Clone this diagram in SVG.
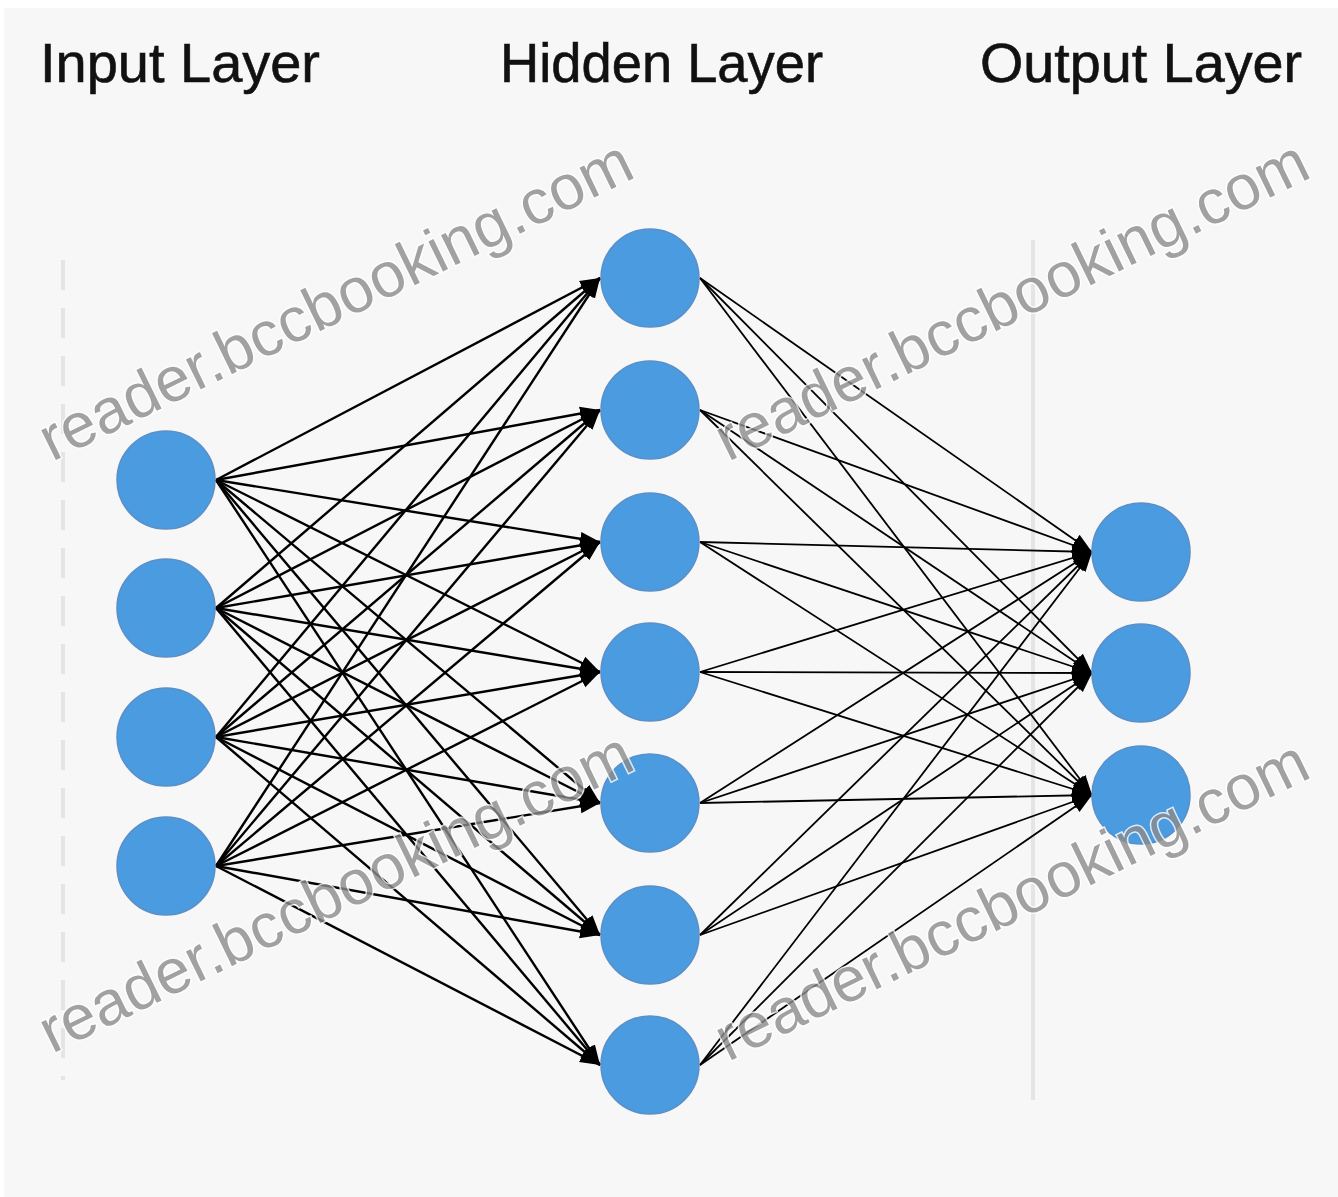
<svg xmlns="http://www.w3.org/2000/svg" width="1338" height="1197" viewBox="0 0 1338 1197">
<style>
.title{font-family:"Liberation Sans",Arial,sans-serif;font-size:55px;fill:#111;stroke:#111;stroke-width:0.6;}
.node{fill:#4b9be0;stroke:#5a8fc8;stroke-width:1.5;}
.edge{stroke:#000;stroke-width:2.4;fill:none;marker-end:url(#arrow);}
.edge2{stroke:#000;stroke-width:1.8;fill:none;marker-end:url(#arrow);}
.wm{font-family:"Liberation Sans",Arial,sans-serif;font-size:63px;fill:#8c8c8c;stroke:#ffffff;stroke-width:3;paint-order:stroke;opacity:0.8;}
.faint{stroke:#e4e4e4;stroke-width:4;fill:none;}
</style>
<defs>
<marker id="arrow" markerUnits="userSpaceOnUse" markerWidth="22" markerHeight="16" refX="20" refY="8" orient="auto">
<path d="M0,1 L20,8 L0,15 Z" fill="#000"/>
</marker>
</defs>
<rect x="0" y="0" width="1338" height="1197" fill="#ffffff"/>
<rect x="4" y="8" width="1334" height="1189" fill="#f7f7f7"/>
<line class="faint" x1="63" y1="260" x2="63" y2="1080" stroke-dasharray="30 18"/>
<line class="faint" x1="1033" y1="240" x2="1033" y2="1100" stroke-width="2"/>
<g id="titles">
<text class="title" x="40" y="82" textLength="280" lengthAdjust="spacingAndGlyphs">Input Layer</text>
<text class="title" x="500" y="82" textLength="323" lengthAdjust="spacingAndGlyphs">Hidden Layer</text>
<text class="title" x="980" y="82" textLength="322" lengthAdjust="spacingAndGlyphs">Output Layer</text>
</g>
<g id="connectors">
<line class="edge" x1="216" y1="480" x2="600" y2="278"/>
<line class="edge" x1="216" y1="480" x2="600" y2="410"/>
<line class="edge" x1="216" y1="480" x2="600" y2="542"/>
<line class="edge" x1="216" y1="480" x2="600" y2="672"/>
<line class="edge" x1="216" y1="480" x2="600" y2="803"/>
<line class="edge" x1="216" y1="480" x2="600" y2="935"/>
<line class="edge" x1="216" y1="480" x2="600" y2="1065"/>
<line class="edge" x1="216" y1="608" x2="600" y2="278"/>
<line class="edge" x1="216" y1="608" x2="600" y2="410"/>
<line class="edge" x1="216" y1="608" x2="600" y2="542"/>
<line class="edge" x1="216" y1="608" x2="600" y2="672"/>
<line class="edge" x1="216" y1="608" x2="600" y2="803"/>
<line class="edge" x1="216" y1="608" x2="600" y2="935"/>
<line class="edge" x1="216" y1="608" x2="600" y2="1065"/>
<line class="edge" x1="216" y1="737" x2="600" y2="278"/>
<line class="edge" x1="216" y1="737" x2="600" y2="410"/>
<line class="edge" x1="216" y1="737" x2="600" y2="542"/>
<line class="edge" x1="216" y1="737" x2="600" y2="672"/>
<line class="edge" x1="216" y1="737" x2="600" y2="803"/>
<line class="edge" x1="216" y1="737" x2="600" y2="935"/>
<line class="edge" x1="216" y1="737" x2="600" y2="1065"/>
<line class="edge" x1="216" y1="866" x2="600" y2="278"/>
<line class="edge" x1="216" y1="866" x2="600" y2="410"/>
<line class="edge" x1="216" y1="866" x2="600" y2="542"/>
<line class="edge" x1="216" y1="866" x2="600" y2="672"/>
<line class="edge" x1="216" y1="866" x2="600" y2="803"/>
<line class="edge" x1="216" y1="866" x2="600" y2="935"/>
<line class="edge" x1="216" y1="866" x2="600" y2="1065"/>
<line class="edge2" x1="700" y1="278" x2="1092" y2="552"/>
<line class="edge2" x1="700" y1="278" x2="1092" y2="673"/>
<line class="edge2" x1="700" y1="278" x2="1092" y2="795"/>
<line class="edge2" x1="700" y1="410" x2="1092" y2="552"/>
<line class="edge2" x1="700" y1="410" x2="1092" y2="673"/>
<line class="edge2" x1="700" y1="410" x2="1092" y2="795"/>
<line class="edge2" x1="700" y1="542" x2="1092" y2="552"/>
<line class="edge2" x1="700" y1="542" x2="1092" y2="673"/>
<line class="edge2" x1="700" y1="542" x2="1092" y2="795"/>
<line class="edge2" x1="700" y1="672" x2="1092" y2="552"/>
<line class="edge2" x1="700" y1="672" x2="1092" y2="673"/>
<line class="edge2" x1="700" y1="672" x2="1092" y2="795"/>
<line class="edge2" x1="700" y1="803" x2="1092" y2="552"/>
<line class="edge2" x1="700" y1="803" x2="1092" y2="673"/>
<line class="edge2" x1="700" y1="803" x2="1092" y2="795"/>
<line class="edge2" x1="700" y1="935" x2="1092" y2="552"/>
<line class="edge2" x1="700" y1="935" x2="1092" y2="673"/>
<line class="edge2" x1="700" y1="935" x2="1092" y2="795"/>
<line class="edge2" x1="700" y1="1065" x2="1092" y2="552"/>
<line class="edge2" x1="700" y1="1065" x2="1092" y2="673"/>
<line class="edge2" x1="700" y1="1065" x2="1092" y2="795"/>
</g>
<g id="input-layer">
<circle id="in1" class="node" cx="166" cy="480" r="49"/>
<circle id="in2" class="node" cx="166" cy="608" r="49"/>
<circle id="in3" class="node" cx="166" cy="737" r="49"/>
<circle id="in4" class="node" cx="166" cy="866" r="49"/>
</g>
<g id="hidden-layer">
<circle id="h1" class="node" cx="650" cy="278" r="49"/>
<circle id="h2" class="node" cx="650" cy="410" r="49"/>
<circle id="h3" class="node" cx="650" cy="542" r="49"/>
<circle id="h4" class="node" cx="650" cy="672" r="49"/>
<circle id="h5" class="node" cx="650" cy="803" r="49"/>
<circle id="h6" class="node" cx="650" cy="935" r="49"/>
<circle id="h7" class="node" cx="650" cy="1065" r="49"/>
</g>
<g id="output-layer">
<circle id="o1" class="node" cx="1141" cy="552" r="49"/>
<circle id="o2" class="node" cx="1141" cy="673" r="49"/>
<circle id="o3" class="node" cx="1141" cy="795" r="49"/>
</g>
<g id="watermarks">
<text class="wm" transform="translate(52,462) rotate(-26)">reader.bccbooking.com</text>
<text class="wm" transform="translate(728,462) rotate(-26)">reader.bccbooking.com</text>
<text class="wm" transform="translate(52,1054) rotate(-26)">reader.bccbooking.com</text>
<text class="wm" transform="translate(728,1062) rotate(-26)">reader.bccbooking.com</text>
</g>
</svg>
